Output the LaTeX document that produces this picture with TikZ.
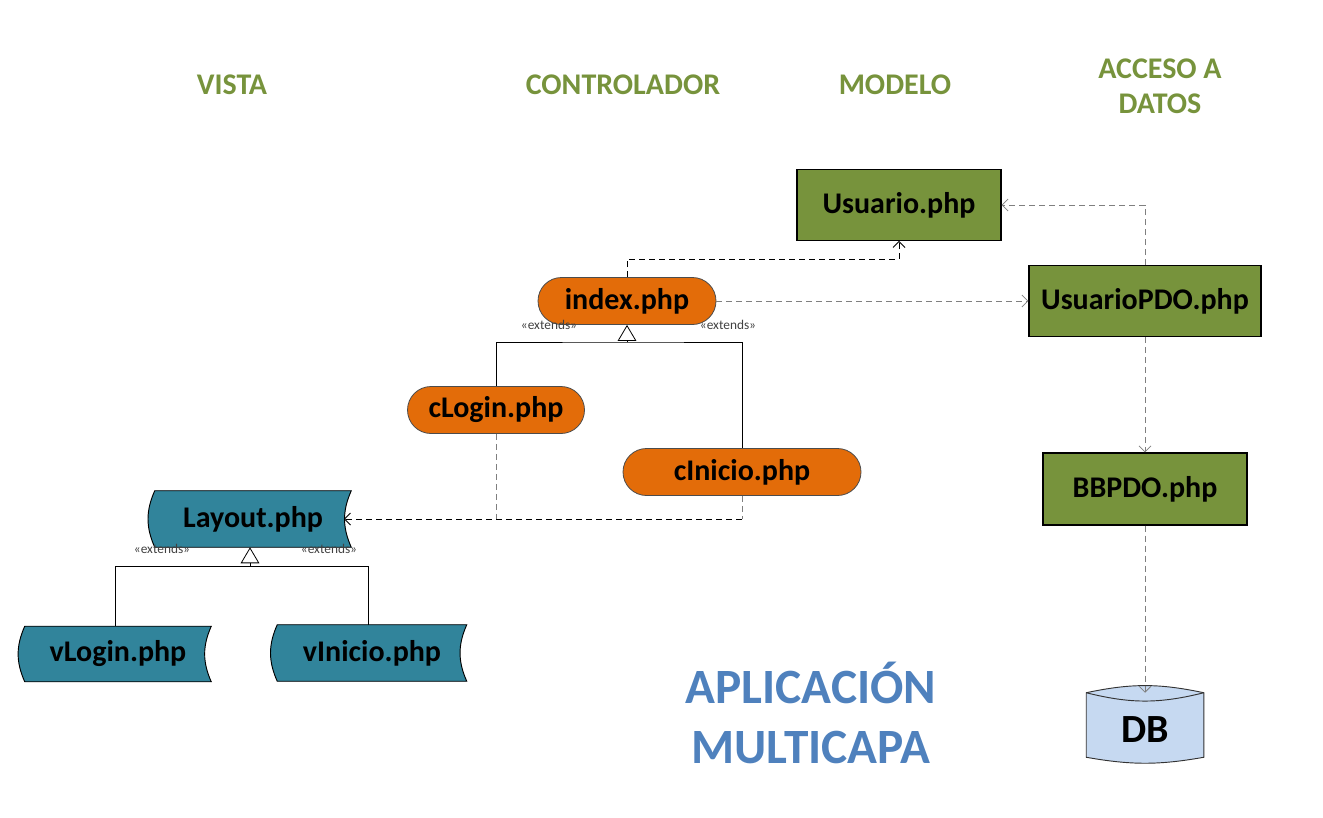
\documentclass[tikz,border=0pt]{standalone}
\usepackage{fontspec}
\setmainfont{Carlito}
\usetikzlibrary{arrows.meta,backgrounds,shapes.misc}

\definecolor{vistateal}{HTML}{31849B}
\definecolor{ctrlorange}{HTML}{E36C09}
\definecolor{modelgreen}{HTML}{77933C}
\definecolor{titleblue}{HTML}{4F81BD}
\definecolor{dbblue}{HTML}{C6D9F1}
\definecolor{depgray}{HTML}{7F7F7F}

\tikzset{
  layer/.style={font=\fontsize{22.5}{26}\selectfont\bfseries, text=modelgreen, align=center},
  boxtext/.style={font=\fontsize{22.5}{27}\selectfont\bfseries, text=black, inner sep=0pt},
  model/.style={boxtext, draw=black, line width=0.9pt, fill=modelgreen, minimum height=53pt},
  ctrl/.style={boxtext, rounded rectangle, draw=black!70, line width=0.6pt, fill=ctrlorange, minimum height=35.25pt},
  vista/.style={boxtext, minimum height=42pt},
  ext/.style={font=\fontsize{10}{12}\selectfont, text=black!75},
  dashline/.style={dash pattern=on 4.5pt off 3pt, line width=0.6pt},
  dep/.style={dashline, -{Straight Barb[length=4.5pt,width=9pt]}},
  gen/.style={line width=0.6pt, -{Triangle[open,length=12pt,width=14pt]}},
}

\begin{document}
\begin{tikzpicture}[x=0.75pt,y=-0.75pt]
\useasboundingbox (0,0) rectangle (1323,817);

%Layers
\node[layer] (vistahead) at (232,85) {VISTA};
\node[layer] (ctrlhead) at (623,85) {CONTROLADOR};
\node[layer] (modelhead) at (895,85) {MODELO};
\node[layer] (datahead) at (1160,86) {ACCESO A\\DATOS};

%Modelo and acceso a datos
\node[model, minimum width=153pt] (Usuario) at (899,205) {Usuario.php};
\node[model, minimum width=174pt] (UsuarioPDO) at (1145,301) {UsuarioPDO.php};
\node[model, minimum width=153pt, minimum height=54pt] (BBPDO) at (1145,489) {BBPDO.php};
\node[boxtext, font=\fontsize{30}{34}\selectfont\bfseries, text height=26.8pt, text depth=0pt, minimum width=87.75pt, minimum height=48pt] (DB) at (1145,725) {DB};

%Controlador
\node[ctrl, minimum width=133.5pt] (index) at (627,301) {index.php};
\node[ctrl, minimum width=132.75pt] (cLogin) at (496,410) {cLogin.php};
\node[ctrl, minimum width=178.5pt] (cInicio) at (742,472) {cInicio.php};

%Vista
\node[vista, minimum width=147pt] (Layout) at (253,519) {Layout.php};
\node[vista, minimum width=139.5pt, minimum height=41.25pt] (vLogin) at (118,654) {vLogin.php};
\node[vista, minimum width=141.75pt] (vInicio) at (372,653) {vInicio.php};

\begin{scope}[on background layer]
\foreach \n in {Layout,vLogin,vInicio}
	\filldraw[fill=vistateal, draw=black, line width=0.7pt] (\n.north west) to[bend right=24] (\n.south west) -- (\n.south east) to[bend left=24] (\n.north east) -- cycle;
\filldraw[fill=dbblue, draw=black!80, line width=0.7pt] (DB.north west) to[bend left=12] (DB.north east) -- (DB.south east) to[bend left=10] (DB.south west) -- cycle;
\draw[black!80, line width=0.7pt] (DB.north west) to[bend right=14] (DB.north east);
\end{scope}

%Dependencies
\draw[dep] (index.north) -- ++(0,-18) -| (Usuario.south);
\draw[dep, depgray] (index.east) -- (UsuarioPDO.west);
\draw[dep, depgray] (UsuarioPDO.north) |- (Usuario.east);
\draw[dep, depgray] (UsuarioPDO.south) -- (BBPDO.north);
\draw[dep, depgray] (BBPDO.south) -- (DB.north);

\coordinate (cjoin) at (cInicio.south |- Layout.east);
\draw[dashline, depgray] (cLogin.south) -- (cLogin.south |- Layout.east);
\draw[dashline, depgray] (cInicio.south) -- (cjoin);
\draw[dep] (cjoin) -- ([xshift=-5.5pt]Layout.east);

%Extends
\coordinate (ibar) at (627,342);
\draw[line width=0.6pt] (cLogin.north) |- (ibar) -| (cInicio.north);
\draw[gen] (ibar) -- (index.south);
\node[ext] (iext1) at (549,325) {«extends»};
\node[ext] (iext2) at (728,325) {«extends»};

\coordinate (lbar) at (250,566);
\coordinate (vlbar) at ([xshift=-2.25pt]vLogin.north |- lbar);
\coordinate (vibar) at ([xshift=-3pt]vInicio.north |- lbar);
\draw[line width=0.6pt] (vlbar) -- (vibar);
\draw[line width=0.6pt] (vlbar) -- (vlbar |- vLogin.north);
\draw[line width=0.6pt] (vibar) -- (vibar |- vInicio.north);
\draw[gen] (lbar) -- (Layout.south -| lbar);
\node[ext] (lext1) at (162,549) {«extends»};
\node[ext] (lext2) at (329,549) {«extends»};

%Title
\node[font=\fontsize{37}{45}\selectfont\bfseries, text=titleblue, align=center] (app) at (811,713) {APLICACIÓN\\MULTICAPA};
\end{tikzpicture}
\end{document}
